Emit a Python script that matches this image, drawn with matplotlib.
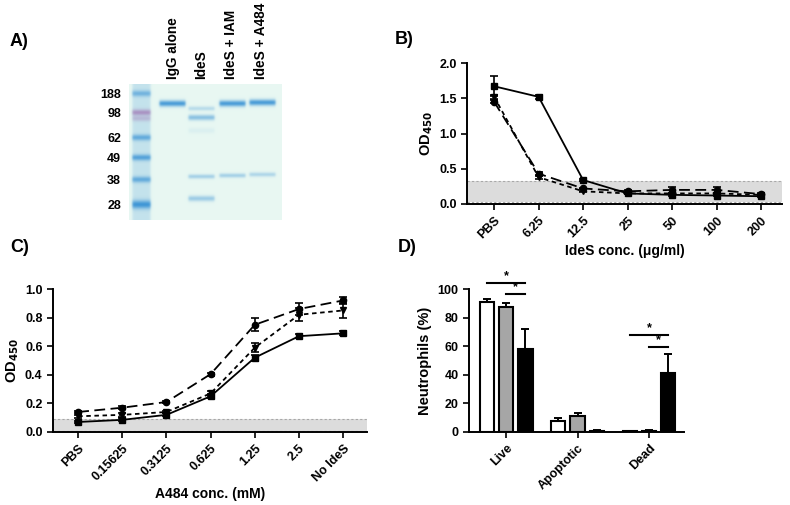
import numpy as np
import matplotlib
matplotlib.use("Agg")
import matplotlib.pyplot as plt

plt.rcParams['font.family'] = ['Liberation Sans', 'DejaVu Sans']
plt.rcParams['font.weight'] = 'bold'
plt.rcParams['axes.labelweight'] = 'bold'
plt.rcParams['axes.linewidth'] = 1.4
plt.rcParams['xtick.major.width'] = 1.2
plt.rcParams['ytick.major.width'] = 1.2
plt.rcParams['xtick.major.size'] = 4
plt.rcParams['ytick.major.size'] = 4

# ---- panel A: gel ----
gel_lanes = ['IgG alone', 'IdeS', 'IdeS + IAM', 'IdeS + A484']
ladder_kda = ['188', '98', '62', '49', '38', '28']
ladder_rows = [9, 28, 53, 73, 95, 120]          # marker band rows in gel
ladder_strength = [0.55, 0.6, 0.65, 0.75, 0.65, 0.9]
# (lane index, row, intensity, sigma)
sample_bands = [
    (0, 19, 0.85, 2.2),
    (1, 24, 0.25, 1.6), (1, 33, 0.5, 2.0), (1, 46, 0.07, 2.0),
    (1, 92, 0.35, 1.6), (1, 114, 0.4, 2.0),
    (2, 19, 0.85, 2.2), (2, 91, 0.35, 1.6),
    (3, 18, 0.85, 2.2), (3, 90, 0.3, 1.6),
]

# ---- panel B ----
ides_conc = ['PBS', '6.25', '12.5', '25', '50', '100', '200']
b_sq = [1.67, 1.52, 0.34, 0.15, 0.13, 0.12, 0.11]
b_sq_err = [0.14, 0.03, 0.02, 0.01, 0.02, 0.01, 0.01]
b_ci = [1.45, 0.43, 0.22, 0.18, 0.20, 0.20, 0.14]
b_ci_err = [0.02, 0.02, 0.01, 0.02, 0.04, 0.04, 0.01]
b_tr = [1.52, 0.38, 0.18, 0.15, 0.15, 0.15, 0.13]
b_tr_err = [0.03, 0.02, 0.01, 0.01, 0.01, 0.01, 0.01]
b_bg = (0.03, 0.33)

# ---- panel C ----
a484_conc = ['PBS', '0.15625', '0.3125', '0.625', '1.25', '2.5', 'No IdeS']
c_sq = [0.07, 0.085, 0.12, 0.25, 0.52, 0.67, 0.69]
c_sq_err = [0.01, 0.01, 0.01, 0.015, 0.02, 0.015, 0.015]
c_ci = [0.14, 0.17, 0.21, 0.405, 0.75, 0.86, 0.92]
c_ci_err = [0.01, 0.01, 0.01, 0.01, 0.045, 0.04, 0.025]
c_tr = [0.11, 0.12, 0.14, 0.27, 0.59, 0.82, 0.85]
c_tr_err = [0.01, 0.015, 0.01, 0.02, 0.03, 0.045, 0.05]
c_bg = (0.01, 0.09)

# ---- panel D ----
states = ['Live', 'Apoptotic', 'Dead']
d_white = [91, 8, 0.5]
d_white_err = [2, 2, 0.3]
d_grey = [87.5, 11, 1.0]
d_grey_err = [2.5, 2.5, 0.5]
d_black = [58, 0.8, 41]
d_black_err = [14, 0.3, 13.5]

W, H = 790, 505
fig = plt.figure(figsize=(W / 100, H / 100), dpi=100)


def px_axes(x0, y0, x1, y1):
    return fig.add_axes([x0 / W, 1 - y1 / H, (x1 - x0) / W, (y1 - y0) / H])


# panel letters
for lab, x, y in [('A)', 10, 42), ('B)', 395, 40), ('C)', 10, 247), ('D)', 398, 247)]:
    fig.text(x / W, 1 - y / H, lab, fontsize=13, fontweight='bold', va='center')

# ---- gel image ----
gx0, gy0, gx1, gy1 = 129, 84, 282, 220
gw, gh = gx1 - gx0, gy1 - gy0
bg = np.array([0.91, 0.97, 0.95])
blue = np.array([0.2, 0.56, 0.83])
pink = np.array([0.6, 0.38, 0.66])
img = np.ones((gh, gw, 3)) * bg
rows = np.arange(gh)[:, None]
cols = np.arange(gw)[None, :]
lane_x = [43, 72, 103, 133]
ladder_x = 12


def lane_mask(cx, half):
    return 1 / (1 + np.exp(-(cols - (cx - half)) * 1.5)) * 1 / (1 + np.exp((cols - (cx + half)) * 1.5))


def add_band(cx, half, row, strength, sigma, color):
    global img
    w = strength * np.exp(-0.5 * ((rows - row) / sigma) ** 2) * lane_mask(cx, half)
    w = w[..., None]
    img = img * (1 - w) + color * w


# ladder smear
smear = 0.2 * lane_mask(ladder_x, 9)[..., None] * np.ones((gh, 1, 1))
img = img * (1 - smear) + blue * smear
for r, s in zip(ladder_rows, ladder_strength):
    add_band(ladder_x, 9, r, s, 2.2 if r != 120 else 3.0, pink if r == 28 else blue)
add_band(ladder_x, 9, 34, 0.3, 2.0, pink)
for lane, r, s, sg in sample_bands:
    add_band(lane_x[lane], 13, r, s, sg, blue)

axg = px_axes(gx0, gy0, gx1, gy1)
axg.imshow(np.clip(img, 0, 1), aspect='auto', extent=(0, gw, gh, 0), interpolation='bilinear')
axg.axis('off')

for name, cx in zip(gel_lanes, [173, 201, 231, 261]):
    fig.text(cx / W, 1 - 79 / H, name, rotation=90, ha='center', va='bottom',
             fontsize=9.8, fontweight='bold')
for kda, r in zip(ladder_kda, ladder_rows):
    fig.text(121 / W, 1 - (gy0 + r + 2) / H, kda, ha='right', va='center',
             fontsize=9, fontweight='bold')


def style_axes(ax):
    ax.spines['top'].set_visible(False)
    ax.spines['right'].set_visible(False)
    ax.tick_params(labelsize=9, direction='out')
    for t in ax.get_xticklabels() + ax.get_yticklabels():
        t.set_fontweight('bold')


def od_panel(ax, labels, sq, sqe, ci, cie, tr, tre, band, xlabel):
    x = np.arange(len(labels))
    ax.axhspan(band[0], band[1], color='#dcdcdc', lw=0, zorder=0)
    for yb in band:
        ax.axhline(yb, color='#a8a8a8', lw=0.8, ls=(0, (2, 2)), zorder=0.5)
    ax.errorbar(x, sq, yerr=sqe, color='black', marker='s', ms=5, ls='-', lw=1.3,
                capsize=3, elinewidth=1.2, capthick=1.2, zorder=3)
    ax.errorbar(x, ci, yerr=cie, color='black', marker='o', ms=4.5, ls=(0, (6, 3)), lw=1.3,
                capsize=3, elinewidth=1.2, capthick=1.2, zorder=3)
    ax.errorbar(x, tr, yerr=tre, color='black', marker='v', ms=5, ls=(0, (2.5, 2)), lw=1.3,
                capsize=3, elinewidth=1.2, capthick=1.2, zorder=3)
    ax.set_xticks(x)
    ax.set_xticklabels(labels, rotation=45, ha='right', rotation_mode='anchor')
    ax.set_xlabel(xlabel, fontsize=10, labelpad=2)
    ax.set_ylabel('OD$_{\\mathbf{450}}$', fontsize=10.5, labelpad=3)
    style_axes(ax)


# ---- panel B ----
axb = px_axes(467, 63, 782, 204)
od_panel(axb, ides_conc, b_sq, b_sq_err, b_ci, b_ci_err, b_tr, b_tr_err, b_bg,
         'IdeS conc. (\u03bcg/ml)')
axb.set_xlim(-0.61, 6.47)
axb.set_ylim(0, 2.0)
axb.set_yticks([0, 0.5, 1.0, 1.5, 2.0])
axb.set_yticklabels(['0.0', '0.5', '1.0', '1.5', '2.0'])

# ---- panel C ----
axc = px_axes(53, 289, 367, 432)
od_panel(axc, a484_conc, c_sq, c_sq_err, c_ci, c_ci_err, c_tr, c_tr_err, c_bg,
         'A484 conc. (mM)')
axc.set_xlim(-0.57, 6.54)
axc.set_ylim(0, 1.0)
axc.set_yticks(np.arange(0, 1.01, 0.2))
axc.set_yticklabels(['0.0', '0.2', '0.4', '0.6', '0.8', '1.0'])

# ---- panel D ----
axd = px_axes(469, 289, 684, 432)
xg = np.arange(len(states))
bw, off = 0.2, 0.27
for vals, errs, col, dx in [(d_white, d_white_err, 'white', -off),
                            (d_grey, d_grey_err, '#a6a6a6', 0),
                            (d_black, d_black_err, 'black', off)]:
    axd.bar(xg + dx, vals, width=bw, color=col, edgecolor='black', linewidth=1.5, zorder=2)
    axd.errorbar(xg + dx, vals, yerr=[np.zeros(len(errs)), errs], fmt='none', ecolor='black',
                 elinewidth=1.4, capsize=3, capthick=1.4, zorder=3)

# significance markers
for xa, xb, y in [(0 - off, 0 + off, 104), (0, 0 + off, 96.5), (2 - off, 2 + off, 68), (2, 2 + off, 59.5)]:
    axd.plot([xa, xb], [y, y], color='black', lw=1.5, clip_on=False)
    axd.text((xa + xb) / 2, y + 0.5, '*', ha='center', va='bottom', fontsize=9, fontweight='bold')

axd.set_xlim(-0.52, 2.49)
axd.set_ylim(0, 100)
axd.set_yticks(np.arange(0, 101, 20))
axd.set_xticks(xg)
axd.set_xticklabels(states, rotation=45, ha='right', rotation_mode='anchor')
axd.tick_params(axis='x', length=4)
axd.set_ylabel('Neutrophils (%)', fontsize=10.5, labelpad=4)
style_axes(axd)

fig.savefig('out.png', dpi=100, facecolor='white')
